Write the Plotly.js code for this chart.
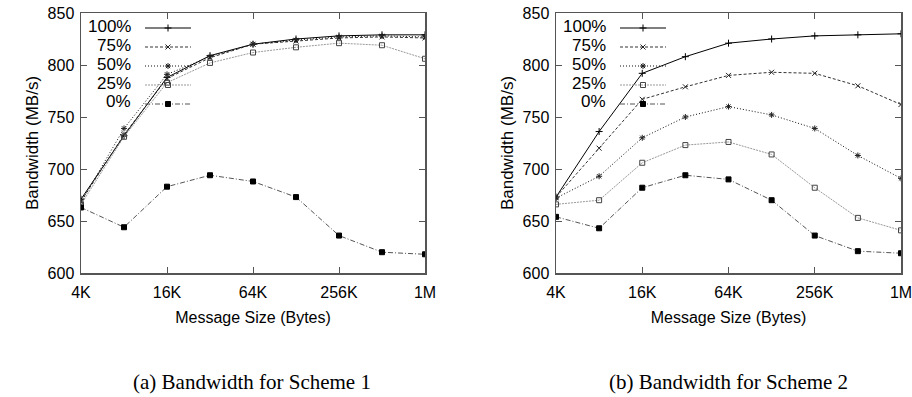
<!DOCTYPE html>
<html>
<head>
<meta charset="utf-8">
<script src="https://cdn.plot.ly/plotly-3.0.1.min.js"></script>
<style>html,body{margin:0;padding:0;background:#fff;}#chart{width:912px;height:397px;}</style>
</head>
<body>
<div id="chart"></div>
<script>
// Message sizes (bytes)
const sizes = [4096, 8192, 16384, 32768, 65536, 131072, 262144, 524288, 1048576];
const tickVals = [4096, 16384, 65536, 262144, 1048576];
const tickText = ['4K', '16K', '64K', '256K', '1M'];
const seriesNames = ['100%', '75%', '50%', '25%', '0%'];

// Scheme 1 bandwidth (MB/s)
const s1_100 = [671, 732, 788, 809, 820, 825, 828, 829, 829];
const s1_75  = [669, 733, 787, 807, 820, 823, 826, 827, 826];
const s1_50  = [668, 739, 791, 808, 820, 824, 827, 828, 827];
const s1_25  = [666, 731, 783, 802, 812, 817, 821, 819, 806];
const s1_0   = [663, 644, 683, 694, 688, 673, 636, 620, 618];

// Scheme 2 bandwidth (MB/s)
const s2_100 = [673, 736, 792, 808, 821, 825, 828, 829, 830];
const s2_75  = [673, 720, 767, 779, 790, 793, 792, 780, 762];
const s2_50  = [672, 693, 730, 750, 760, 752, 739, 713, 691];
const s2_25  = [666, 670, 706, 723, 726, 714, 682, 653, 641];
const s2_0   = [654, 643, 682, 694, 690, 670, 636, 621, 619];

const styles = [
  {color: '#000000', dash: 'solid', symbol: 'cross-thin', mcolor: '#000000', msize: 5},
  {color: '#333333', dash: '3px,2px', symbol: 'x-thin', mcolor: '#222222', msize: 5},
  {color: '#111111', dash: '1px,2px', symbol: 'asterisk', mcolor: '#222222', msize: 5},
  {color: '#999999', dash: '2px,1px', symbol: 'square-open', mcolor: '#444444', msize: 5},
  {color: '#555555', dash: '5px,2px,1px,2px', symbol: 'square', mcolor: '#000000', msize: 5}
];

function makeTraces(data, xa, ya, leg) {
  return data.map((ys, i) => {
    const st = styles[i];
    return {
      x: sizes, y: ys, xaxis: xa, yaxis: ya, legend: leg,
      type: 'scatter', mode: 'lines+markers', name: '',
      line: {color: st.color, width: 1, dash: st.dash},
      marker: {symbol: st.symbol, size: st.msize, color: st.mcolor,
               line: {color: st.mcolor, width: 1}},
      hoverinfo: 'x+y'
    };
  });
}

const traces = makeTraces([s1_100, s1_75, s1_50, s1_25, s1_0], 'x', 'y', 'legend')
  .concat(makeTraces([s2_100, s2_75, s2_50, s2_25, s2_0], 'x2', 'y2', 'legend2'));

const W = 912, H = 397;
const tickFont = {family: 'Liberation Sans, Arial, sans-serif', size: 16, color: '#000'};

function xAxis(domain, anchor) {
  return {
    domain: domain, anchor: anchor, type: 'log',
    range: [Math.log10(4096), Math.log10(1048576)],
    tickvals: tickVals, ticktext: tickText,
    ticks: 'inside', ticklen: 6, tickcolor: '#555', tickwidth: 1,
    showline: true, linecolor: '#555', linewidth: 1.5, mirror: 'ticks',
    showgrid: false, zeroline: false, tickfont: tickFont,
    ticklabelstandoff: 4, ticklabeloverflow: 'allow',
    title: {text: 'Message Size (Bytes)', font: {family: 'Liberation Sans, Arial, sans-serif', size: 16, color: '#000'}, standoff: 12}
  };
}
function yAxis(domain, anchor) {
  return {
    domain: domain, anchor: anchor, range: [600, 850], dtick: 50,
    ticks: 'inside', ticklen: 6, tickcolor: '#555', tickwidth: 1,
    showline: true, linecolor: '#555', linewidth: 1.5, mirror: 'ticks',
    showgrid: false, zeroline: false, tickfont: tickFont,
    ticklabelstandoff: 2, ticklabeloverflow: 'allow',
    title: {text: 'Bandwidth (MB/s)', font: {family: 'Liberation Sans, Arial, sans-serif', size: 17, color: '#000'}, standoff: 4}
  };
}

const ydom = [1 - 273 / H, 1 - 13 / H];
const annotations = [];
seriesNames.forEach((nm, i) => {
  [133, 608].forEach(xr => {
    annotations.push({
      xref: 'paper', yref: 'paper', x: xr / W, y: 1 - (26.7 + i * 18.8) / H,
      xanchor: 'right', yanchor: 'middle', showarrow: false, text: nm,
      font: {family: 'Liberation Sans, Arial, sans-serif', size: 17, color: '#000'}
    });
  });
});
const capFont = {family: 'Liberation Serif, Times New Roman, serif', size: 21, color: '#000'};
annotations.push({xref: 'paper', yref: 'paper', x: 252 / W, y: 1 - 382 / H,
  xanchor: 'center', yanchor: 'middle', showarrow: false,
  text: '(a) Bandwidth for Scheme 1', font: capFont});
annotations.push({xref: 'paper', yref: 'paper', x: 728 / W, y: 1 - 382 / H,
  xanchor: 'center', yanchor: 'middle', showarrow: false,
  text: '(b) Bandwidth for Scheme 2', font: capFont});

const legendBase = {
  xanchor: 'left', yanchor: 'top', bgcolor: 'rgba(0,0,0,0)', borderwidth: 0,
  itemwidth: 46, tracegroupgap: 0, font: {size: 12}, itemclick: false
};

const layout = {
  width: W, height: H, margin: {l: 0, r: 0, t: 0, b: 0},
  paper_bgcolor: '#fff', plot_bgcolor: '#fff',
  showlegend: true,
  xaxis: xAxis([81 / W, 425 / W], 'y'),
  yaxis: yAxis(ydom, 'x'),
  xaxis2: xAxis([556 / W, 901 / W], 'y2'),
  yaxis2: yAxis(ydom, 'x2'),
  legend: Object.assign({}, legendBase, {x: 140 / W, y: 1 - 13.5 / H}),
  legend2: Object.assign({}, legendBase, {x: 615 / W, y: 1 - 13.5 / H}),
  annotations: annotations
};

Plotly.newPlot('chart', traces, layout, {displayModeBar: false, staticPlot: true});
</script>
</body>
</html>
